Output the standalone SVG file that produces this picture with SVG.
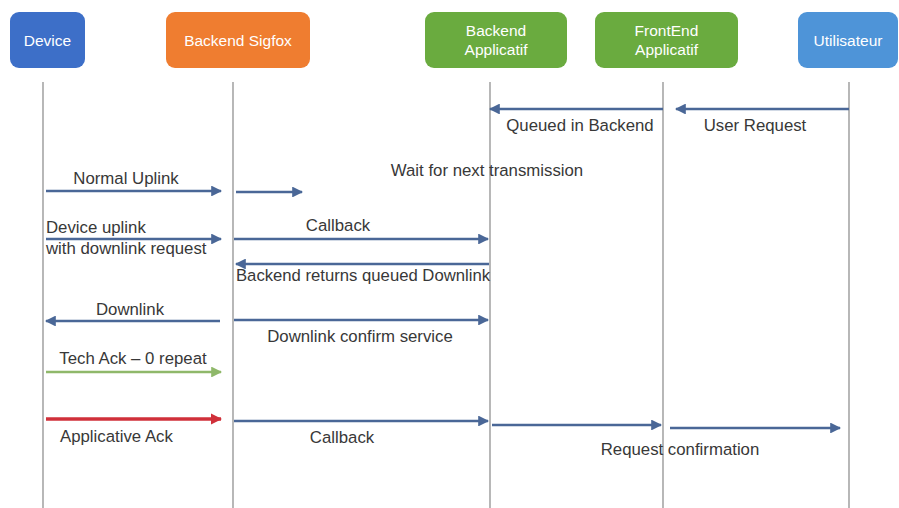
<svg xmlns="http://www.w3.org/2000/svg" width="899" height="508" viewBox="0 0 899 508">
  <style>
    .box { rx: 9px; ry: 9px; }
    .nt { font-family: "Liberation Sans", Arial, sans-serif; font-size: 15.5px; fill: #ffffff; text-anchor: middle; }
    .life { stroke: #a6a6a6; stroke-width: 1.6; }
    .msg { stroke: #4a6797; stroke-width: 2.6; fill: none; marker-end: url(#ah); }
    .lbl { font-family: "Liberation Sans", Arial, sans-serif; font-size: 16.8px; fill: #383838; }
    .c { text-anchor: middle; }
  </style>
  <defs>
    <marker id="ah" viewBox="0 0 10 10" refX="9" refY="5" markerWidth="4.2" markerHeight="4.2" orient="auto" markerUnits="strokeWidth">
      <path d="M0,0 L10,5 L0,10 z" fill="context-stroke"/>
    </marker>
    <marker id="ahg" viewBox="0 0 10 10" refX="9" refY="5" markerWidth="4.2" markerHeight="4.2" orient="auto" markerUnits="strokeWidth">
      <path d="M0,0 L10,5 L0,10 z" fill="#8fb86a"/>
    </marker>
    <marker id="ahr" viewBox="0 0 10 10" refX="9" refY="5" markerWidth="3.4" markerHeight="3.4" orient="auto" markerUnits="strokeWidth">
      <path d="M0,0 L10,5 L0,10 z" fill="#d0303a"/>
    </marker>
  </defs>

  <rect width="899" height="508" fill="#ffffff"/>

  <!-- lifelines -->
  <g id="lifelines">
    <line class="life" x1="43" y1="82" x2="43" y2="508"/>
    <line class="life" x1="233" y1="82" x2="233" y2="508"/>
    <line class="life" x1="490" y1="82" x2="490" y2="508"/>
    <line class="life" x1="663" y1="82" x2="663" y2="508"/>
    <line class="life" x1="849" y1="82" x2="849" y2="508"/>
  </g>

  <!-- participants -->
  <g id="device">
    <rect class="box" x="10" y="12" width="75" height="56" fill="#3d6fc8"/>
    <text class="nt" x="47.5" y="46">Device</text>
  </g>
  <g id="backend-sigfox">
    <rect class="box" x="166" y="12" width="144" height="56" fill="#ef7d30"/>
    <text class="nt" x="238" y="46">Backend Sigfox</text>
  </g>
  <g id="backend-applicatif">
    <rect class="box" x="425" y="12" width="142" height="56" fill="#6aab3f"/>
    <text class="nt" x="496" y="36">Backend</text>
    <text class="nt" x="496" y="55">Applicatif</text>
  </g>
  <g id="frontend-applicatif">
    <rect class="box" x="595" y="12" width="143" height="56" fill="#6aab3f"/>
    <text class="nt" x="666.5" y="36">FrontEnd</text>
    <text class="nt" x="666.5" y="55">Applicatif</text>
  </g>
  <g id="utilisateur">
    <rect class="box" x="798" y="12" width="100" height="56" fill="#4e94d8"/>
    <text class="nt" x="848" y="46">Utilisateur</text>
  </g>

  <!-- messages -->
  <g id="connectors">
    <line class="msg" x1="849" y1="109" x2="676" y2="109"/>
    <line class="msg" x1="663" y1="109" x2="490" y2="109"/>
    <line class="msg" x1="46" y1="191" x2="221" y2="191"/>
    <line class="msg" x1="236" y1="192" x2="302" y2="192"/>
    <line class="msg" x1="46" y1="239" x2="221" y2="239"/>
    <line class="msg" x1="234" y1="239" x2="488" y2="239"/>
    <line class="msg" x1="489" y1="264" x2="236" y2="264"/>
    <line class="msg" x1="220" y1="321" x2="46" y2="321"/>
    <line class="msg" x1="234" y1="320" x2="488" y2="320"/>
    <line x1="46" y1="372" x2="221" y2="372" stroke="#8fb86a" stroke-width="2.6" marker-end="url(#ahg)"/>
    <line x1="46" y1="419" x2="221" y2="419" stroke="#d0303a" stroke-width="3.4" marker-end="url(#ahr)"/>
    <line class="msg" x1="234" y1="421" x2="488" y2="421"/>
    <line class="msg" x1="492" y1="425" x2="661" y2="425"/>
    <line class="msg" x1="670" y1="428" x2="840" y2="428"/>
  </g>

  <!-- message labels -->
  <g id="labels">
    <text class="lbl c" x="755" y="131">User Request</text>
    <text class="lbl c" x="580" y="131">Queued in Backend</text>
    <text class="lbl c" x="487" y="176">Wait for next transmission</text>
    <text class="lbl c" x="126" y="184">Normal Uplink</text>
    <text class="lbl" x="46" y="233">Device uplink</text>
    <text class="lbl" x="46" y="254">with downlink request</text>
    <text class="lbl c" x="338" y="231">Callback</text>
    <text class="lbl" x="236" y="281" textLength="254" lengthAdjust="spacingAndGlyphs">Backend returns queued Downlink</text>
    <text class="lbl c" x="130" y="315">Downlink</text>
    <text class="lbl c" x="360" y="342">Downlink confirm service</text>
    <text class="lbl c" x="133" y="364">Tech Ack – 0 repeat</text>
    <text class="lbl" x="60" y="442">Applicative Ack</text>
    <text class="lbl c" x="342" y="443">Callback</text>
    <text class="lbl c" x="680" y="455">Request confirmation</text>
  </g>
</svg>
